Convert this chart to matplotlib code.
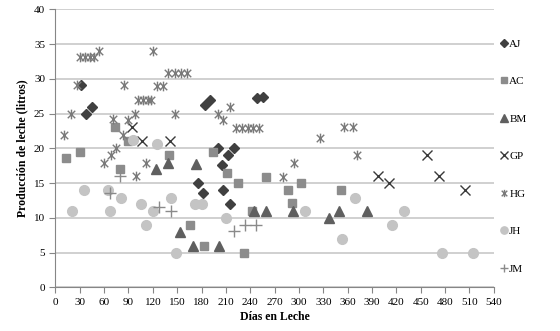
import matplotlib
matplotlib.use("Agg")
import matplotlib.pyplot as plt
from matplotlib.path import Path

# ---- data (días en leche, litros) ----
aj_x = [32, 38, 45, 184, 191, 248, 256, 200, 220, 213, 205, 176, 182, 207, 215]
aj_y = [29.1, 24.9, 26.0, 26.2, 27.0, 27.3, 27.4, 20.1, 20.1, 19.0, 17.6, 15.0, 13.5, 14.0, 12.0]

ac_x = [13, 30, 79, 140, 74, 90, 194, 211, 225, 259, 287, 303, 291, 242, 166, 183, 232, 352]
ac_y = [18.6, 19.4, 17.0, 19.1, 23.0, 21.1, 19.5, 16.5, 15.0, 15.9, 14.0, 15.0, 12.1, 11.0, 9.0, 5.9, 5.0, 14.0]

bm_x = [124, 139, 154, 173, 169, 202, 245, 259, 293, 337, 350, 384]
bm_y = [17.0, 17.9, 8.0, 17.8, 5.9, 5.9, 11.0, 11.0, 11.0, 9.9, 11.0, 11.0]

gp_x = [94, 107, 141, 397, 411, 458, 472, 505]
gp_y = [23.1, 21.1, 21.1, 16.0, 15.0, 19.0, 16.0, 14.0]

hg_x = [10, 19, 26, 30, 36, 42, 47, 54, 84, 120, 71, 98, 90, 83, 75, 68, 60, 112, 99,
        102, 108, 114, 118, 125, 132, 139, 147, 155, 162, 147, 200, 215, 207,
        223, 230, 237, 244, 251, 280, 294, 326, 356, 367, 372]
hg_y = [21.9, 25.0, 29.1, 33.1, 33.1, 33.1, 33.1, 34.0, 29.1, 34.0, 24.2, 25.0, 24.1, 21.9,
        20.1, 19.0, 17.9, 17.9, 16.0, 27.0, 27.0, 27.0, 27.0, 29.0, 29.0, 30.9, 30.9,
        30.9, 30.9, 25.0, 24.9, 26.0, 24.1, 22.9, 22.9, 22.9, 22.9, 22.9, 15.9, 17.9,
        21.5, 23.1, 23.1, 19.0]

jh_x = [21, 35, 65, 67, 81, 105, 120, 111, 142, 149, 125, 96, 172, 180, 210, 307,
        369, 353, 415, 430, 476, 514]
jh_y = [11.0, 14.0, 14.0, 11.0, 12.9, 12.0, 11.0, 9.0, 12.9, 5.0, 20.6, 21.2, 12.0, 12.0,
        9.9, 11.0, 12.9, 7.0, 9.0, 11.0, 5.0, 5.0]

jm_x = [67, 80, 127, 142, 220, 234, 247]
jm_y = [13.6, 16.0, 11.5, 11.0, 8.1, 9.0, 9.0]

# asterisk like the spreadsheet "star": an X with a vertical bar
star = Path([(-1, -1), (1, 1), (-1, 1), (1, -1), (0, -1.3), (0, 1.3)],
            [Path.MOVETO, Path.LINETO, Path.MOVETO, Path.LINETO, Path.MOVETO, Path.LINETO])

plt.rcParams["font.family"] = ["Liberation Serif", "DejaVu Serif"]

fig = plt.figure(figsize=(5.6, 3.31), dpi=100)
ax = fig.add_axes([0.099, 0.132, 0.7826, 0.840])

series = [
    ("AJ", aj_x, aj_y, dict(marker="D", color="#404040", ms=5.5, mec="#404040")),
    ("AC", ac_x, ac_y, dict(marker="s", color="#8c8c8c", ms=6, mec="#8c8c8c")),
    ("BM", bm_x, bm_y, dict(marker="^", color="#5f5f5f", ms=7, mec="#5f5f5f")),
    ("GP", gp_x, gp_y, dict(marker="x", color="#3a3a3a", ms=7, mew=1.0)),
    ("HG", hg_x, hg_y, dict(marker=star, color="#7a7a7a", ms=7, mew=1.0, mfc="none")),
    ("JH", jh_x, jh_y, dict(marker="o", color="#c4c4c4", ms=7, mec="#c4c4c4")),
    ("JM", jm_x, jm_y, dict(marker="+", color="#8a8a8a", ms=8, mew=1.0)),
]
for name, xs, ys, st in series:
    ax.plot(xs, ys, linestyle="none", label=name, **st)

ax.set_xlim(0, 540)
ax.set_ylim(0, 40)
ax.set_xticks(range(0, 541, 30))
ax.set_yticks(range(0, 41, 5))
ax.tick_params(labelsize=8, color="#868686", length=4, width=0.8)
ax.yaxis.grid(True, color="#c8c8c8", lw=1.2)
ax.set_axisbelow(True)
for s in ("top", "right"):
    ax.spines[s].set_visible(False)
for s in ("left", "bottom"):
    ax.spines[s].set_color("#868686")
    ax.spines[s].set_linewidth(0.8)

ax.set_xlabel("Días en Leche", fontsize=8.5, fontweight="bold", labelpad=3)
ax.set_ylabel("Producción de leche (litros)", fontsize=8.5, fontweight="bold", labelpad=4)

leg = ax.legend(loc="upper left", bbox_to_anchor=(1.005, 0.91), frameon=False,
                fontsize=8, labelspacing=2.5, handlelength=0.6, handletextpad=0.2,
                markerscale=0.75, borderaxespad=0)

fig.savefig("out.png", dpi=100)
